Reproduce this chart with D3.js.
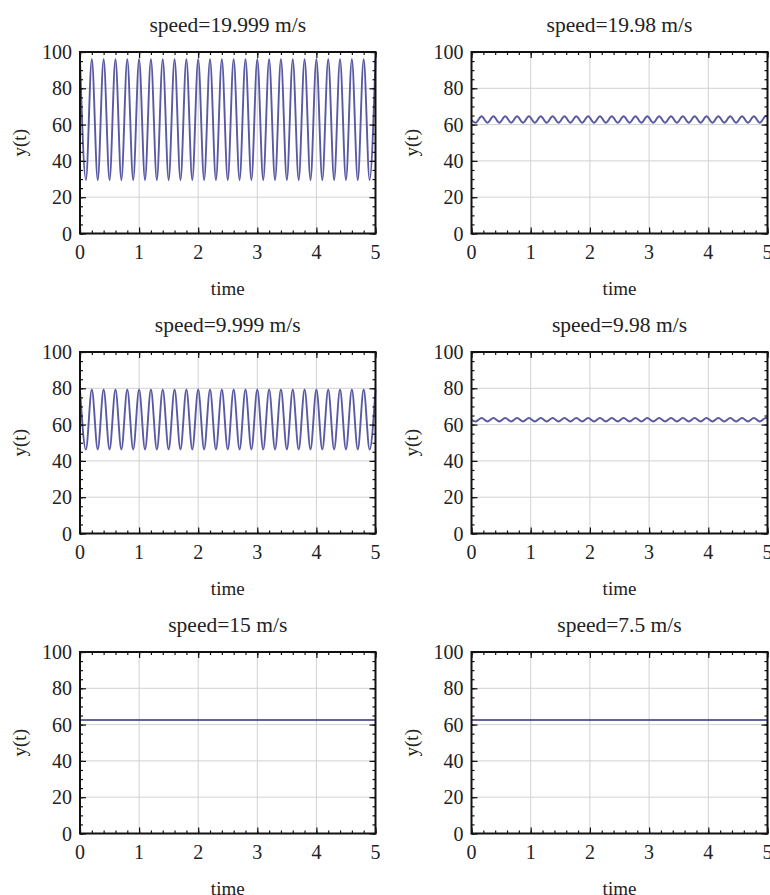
<!DOCTYPE html>
<html>
<head>
<meta charset="utf-8">
<script src="https://cdn.jsdelivr.net/npm/d3@7"></script>
<style>
  html, body { margin: 0; padding: 0; background: #fff; }
  svg text { font-family: "Liberation Serif", "DejaVu Serif", serif; fill: #222; }
</style>
</head>
<body>
<svg id="chart" width="770" height="895"></svg>
<script>
// ---------------- data ----------------
const titles = ["speed=19.999 m/s", "speed=19.98 m/s", "speed=9.999 m/s", "speed=9.98 m/s", "speed=15 m/s", "speed=7.5 m/s"];
const xTicks = [0, 1, 2, 3, 4, 5];
const yTicks = [0, 20, 40, 60, 80, 100];
const xLabel = "time";
const yLabel = "y(t)";

// extrema times (peaks / troughs)
const tFast = [0,0.1,0.2,0.3,0.4,0.5,0.6,0.7,0.8,0.9,1,1.1,1.2,1.3,1.4,1.5,1.6,1.7,1.8,1.9,2,2.1,2.2,2.3,2.4,2.5,2.6,2.7,2.8,2.9,3,3.1,3.2,3.3,3.4,3.5,3.6,3.7,3.8,3.9,4,4.1,4.2,4.3,4.4,4.5,4.6,4.7,4.8,4.9,5];
const y19999 = [96,29.5,96,29.5,96,29.5,96,29.5,96,29.5,96,29.5,96,29.5,96,29.5,96,29.5,96,29.5,96,29.5,96,29.5,96,29.5,96,29.5,96,29.5,96,29.5,96,29.5,96,29.5,96,29.5,96,29.5,96,29.5,96,29.5,96,29.5,96,29.5,96,29.5,96];
const y9999 = [79.3,46.2,79.3,46.2,79.3,46.2,79.3,46.2,79.3,46.2,79.3,46.2,79.3,46.2,79.3,46.2,79.3,46.2,79.3,46.2,79.3,46.2,79.3,46.2,79.3,46.2,79.3,46.2,79.3,46.2,79.3,46.2,79.3,46.2,79.3,46.2,79.3,46.2,79.3,46.2,79.3,46.2,79.3,46.2,79.3,46.2,79.3,46.2,79.3,46.2,79.3];

const tWiggle = [0,0.07,0.17,0.27,0.37,0.47,0.57,0.67,0.77,0.87,0.97,1.07,1.17,1.27,1.37,1.47,1.57,1.67,1.77,1.87,1.97,2.07,2.17,2.27,2.37,2.47,2.57,2.67,2.77,2.87,2.97,3.07,3.17,3.27,3.37,3.47,3.57,3.67,3.77,3.87,3.97,4.07,4.17,4.27,4.37,4.47,4.57,4.67,4.77,4.87,4.97,5];
const y1998 = [62.5,61,64.6,61,64.6,61,64.6,61,64.6,61,64.6,61,64.6,61,64.6,61,64.6,61,64.6,61,64.6,61,64.6,61,64.6,61,64.6,61,64.6,61,64.6,61,64.6,61,64.6,61,64.6,61,64.6,61,64.6,61,64.6,61,64.6,61,64.6,61,64.6,61,64.6,64.5];
const y998 = [62.6,61.7,63.6,61.7,63.6,61.7,63.6,61.7,63.6,61.7,63.6,61.7,63.6,61.7,63.6,61.7,63.6,61.7,63.6,61.7,63.6,61.7,63.6,61.7,63.6,61.7,63.6,61.7,63.6,61.7,63.6,61.7,63.6,61.7,63.6,61.7,63.6,61.7,63.6,61.7,63.6,61.7,63.6,61.7,63.6,61.7,63.6,61.7,63.6,61.7,63.6,63.5];

const tFlat = [0, 5];
const y15 = [62.5, 62.5];
const y75 = [62.5, 62.5];

const panels = [
  { title: titles[0], t: tFast,   y: y19999, flat: false },
  { title: titles[1], t: tWiggle, y: y1998,  flat: false },
  { title: titles[2], t: tFast,   y: y9999,  flat: false },
  { title: titles[3], t: tWiggle, y: y998,   flat: false },
  { title: titles[4], t: tFlat,   y: y15,    flat: true },
  { title: titles[5], t: tFlat,   y: y75,    flat: true }
];

// ---------------- layout ----------------
const svg = d3.select("#chart");
const cols = [{ x0: 80, x1: 375.5 }, { x0: 471.5, x1: 767.5 }];
const rowTop = 52, rowBottom = 233.5, rowStep = 300;

const xMinor = d3.range(0, 5.0001, 0.2);
const yMinor = d3.range(0, 100.0001, 5);

panels.forEach((p, i) => {
  const c = cols[i % 2];
  const r = Math.floor(i / 2);
  const top = rowTop + r * rowStep, bottom = rowBottom + r * rowStep;
  const x = d3.scaleLinear().domain([0, 5]).range([c.x0, c.x1]);
  const y = d3.scaleLinear().domain([0, 100]).range([bottom, top]);
  const g = svg.append("g");

  // grid
  g.append("g").selectAll("line.gx").data(xTicks.slice(1, -1)).join("line")
    .attr("x1", d => x(d)).attr("x2", d => x(d)).attr("y1", top).attr("y2", bottom)
    .attr("stroke", "#d2d2d2").attr("stroke-width", 1);
  g.append("g").selectAll("line.gy").data(yTicks.slice(1, -1)).join("line")
    .attr("y1", d => y(d)).attr("y2", d => y(d)).attr("x1", c.x0).attr("x2", c.x1)
    .attr("stroke", "#d2d2d2").attr("stroke-width", 1);

  // curve
  const line = d3.line().x(d => x(d[0])).y(d => y(d[1])).curve(p.flat ? d3.curveLinear : d3.curveMonotoneX);
  const pts = p.t.map((t, k) => [t, p.y[k]]);
  g.append("path").datum(pts).attr("d", line)
    .attr("fill", "none")
    .attr("stroke", p.flat ? "#2e2e7c" : "#5a5aa4")
    .attr("stroke-width", p.flat ? 1.5 : 1.9);

  // ticks (inward, all sides)
  const tickStyle = sel => { sel.select(".domain").remove(); sel.selectAll("line").attr("stroke", "#111").attr("stroke-width", 1.2); sel.selectAll("text").remove(); };
  g.append("g").attr("transform", `translate(0,${bottom})`).call(d3.axisBottom(x).tickValues(xMinor).tickSize(-3)).call(tickStyle);
  g.append("g").attr("transform", `translate(0,${bottom})`).call(d3.axisBottom(x).tickValues(xTicks).tickSize(-6)).call(tickStyle);
  g.append("g").attr("transform", `translate(0,${top})`).call(d3.axisTop(x).tickValues(xMinor).tickSize(-3)).call(tickStyle);
  g.append("g").attr("transform", `translate(0,${top})`).call(d3.axisTop(x).tickValues(xTicks).tickSize(-6)).call(tickStyle);
  g.append("g").attr("transform", `translate(${c.x0},0)`).call(d3.axisLeft(y).tickValues(yMinor).tickSize(-3)).call(tickStyle);
  g.append("g").attr("transform", `translate(${c.x0},0)`).call(d3.axisLeft(y).tickValues(yTicks).tickSize(-6)).call(tickStyle);
  g.append("g").attr("transform", `translate(${c.x1},0)`).call(d3.axisRight(y).tickValues(yMinor).tickSize(-3)).call(tickStyle);
  g.append("g").attr("transform", `translate(${c.x1},0)`).call(d3.axisRight(y).tickValues(yTicks).tickSize(-6)).call(tickStyle);

  // frame
  g.append("rect").attr("x", c.x0).attr("y", top).attr("width", c.x1 - c.x0).attr("height", bottom - top)
    .attr("fill", "none").attr("stroke", "#111").attr("stroke-width", 2);

  // tick labels
  g.append("g").selectAll("text").data(xTicks).join("text")
    .attr("x", d => x(d)).attr("y", bottom + 25)
    .attr("text-anchor", "middle").attr("font-size", 20).text(d => d);
  g.append("g").selectAll("text").data(yTicks).join("text")
    .attr("x", c.x0 - 8).attr("y", d => y(d)).attr("dy", "0.35em")
    .attr("text-anchor", "end").attr("font-size", 20).text(d => d);

  // title and axis labels
  g.append("text").attr("x", (c.x0 + c.x1) / 2).attr("y", top - 20)
    .attr("text-anchor", "middle").attr("font-size", 21.5).text(p.title);
  g.append("text").attr("x", (c.x0 + c.x1) / 2).attr("y", bottom + 61)
    .attr("text-anchor", "middle").attr("font-size", 19).text(xLabel);
  g.append("text").attr("transform", `translate(${c.x0 - 54},${(top + bottom) / 2}) rotate(-90)`)
    .attr("text-anchor", "middle").attr("font-size", 19).text(yLabel);
});
</script>
</body>
</html>
